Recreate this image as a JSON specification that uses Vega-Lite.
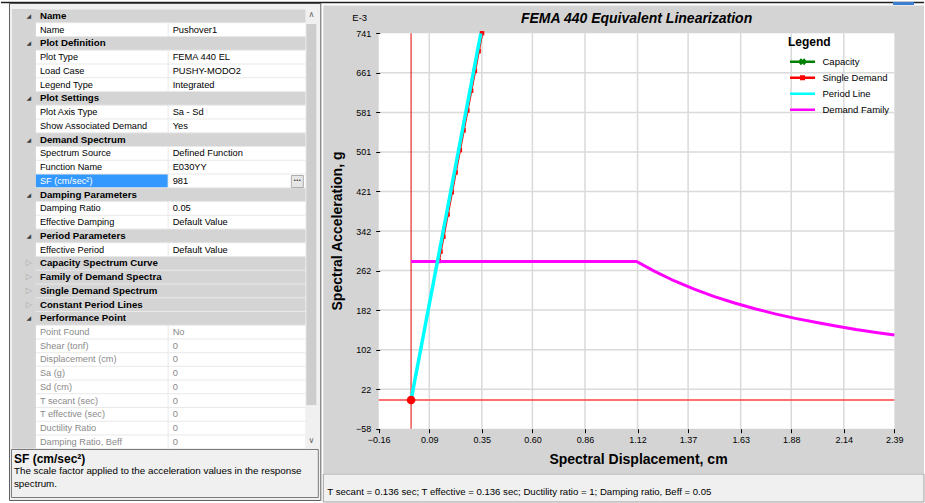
{
"$schema": "https://vega.github.io/schema/vega-lite/v6.json",
"width": 925, "height": 503,
"autosize": {"type": "fit", "contains": "padding"},
"padding": 0,
"background": "#ffffff",
"config": {"view": {"stroke": null}, "font": "Liberation Sans", "text": {"font": "Liberation Sans"}},
"datasets": {
 "props": [
  {"r":0,"k":"h","name":"Name","value":""},
  {"r":1,"k":"p","name":"Name","value":"Pushover1"},
  {"r":2,"k":"h","name":"Plot Definition","value":""},
  {"r":3,"k":"p","name":"Plot Type","value":"FEMA 440 EL"},
  {"r":4,"k":"p","name":"Load Case","value":"PUSHY-MODO2"},
  {"r":5,"k":"p","name":"Legend Type","value":"Integrated"},
  {"r":6,"k":"h","name":"Plot Settings","value":""},
  {"r":7,"k":"p","name":"Plot Axis Type","value":"Sa - Sd"},
  {"r":8,"k":"p","name":"Show Associated Demand","value":"Yes"},
  {"r":9,"k":"h","name":"Demand Spectrum","value":""},
  {"r":10,"k":"p","name":"Spectrum Source","value":"Defined Function"},
  {"r":11,"k":"p","name":"Function Name","value":"E030YY"},
  {"r":12,"k":"s","name":"SF (cm/sec²)","value":"981"},
  {"r":13,"k":"h","name":"Damping Parameters","value":""},
  {"r":14,"k":"p","name":"Damping Ratio","value":"0.05"},
  {"r":15,"k":"p","name":"Effective Damping","value":"Default Value"},
  {"r":16,"k":"h","name":"Period Parameters","value":""},
  {"r":17,"k":"p","name":"Effective Period","value":"Default Value"},
  {"r":18,"k":"hc","name":"Capacity Spectrum Curve","value":""},
  {"r":19,"k":"hc","name":"Family of Demand Spectra","value":""},
  {"r":20,"k":"hc","name":"Single Demand Spectrum","value":""},
  {"r":21,"k":"hc","name":"Constant Period Lines","value":""},
  {"r":22,"k":"h","name":"Performance Point","value":""},
  {"r":23,"k":"d","name":"Point Found","value":"No"},
  {"r":24,"k":"d","name":"Shear (tonf)","value":"0"},
  {"r":25,"k":"d","name":"Displacement (cm)","value":"0"},
  {"r":26,"k":"d","name":"Sa (g)","value":"0"},
  {"r":27,"k":"d","name":"Sd (cm)","value":"0"},
  {"r":28,"k":"d","name":"T secant (sec)","value":"0"},
  {"r":29,"k":"d","name":"T effective (sec)","value":"0"},
  {"r":30,"k":"d","name":"Ductility Ratio","value":"0"},
  {"r":31,"k":"d","name":"Damping Ratio, Beff","value":"0"}
 ],
 "curves": [
  {"series":"Capacity","sd":0,"sa":0},{"series":"Capacity","sd":0.345,"sa":741},
  {"series":"Single Demand","sd":0.1368,"sa":281},{"series":"Single Demand","sd":0.1457,"sa":300},{"series":"Single Demand","sd":0.1596,"sa":330},{"series":"Single Demand","sd":0.1806,"sa":375},{"series":"Single Demand","sd":0.2015,"sa":420},{"series":"Single Demand","sd":0.2202,"sa":460},{"series":"Single Demand","sd":0.2411,"sa":505},{"series":"Single Demand","sd":0.2597,"sa":545},{"series":"Single Demand","sd":0.2784,"sa":585},{"series":"Single Demand","sd":0.297,"sa":625},{"series":"Single Demand","sd":0.3156,"sa":665},{"series":"Single Demand","sd":0.3342,"sa":705},{"series":"Single Demand","sd":0.351,"sa":741},
  {"series":"Period Line","sd":0,"sa":0},{"series":"Period Line","sd":0.345,"sa":741},
  {"series":"Demand Family","sd":0,"sa":280},{"series":"Demand Family","sd":1.115,"sa":280},{"series":"Demand Family","sd":1.2,"sa":261},{"series":"Demand Family","sd":1.3,"sa":241},{"series":"Demand Family","sd":1.4,"sa":224},{"series":"Demand Family","sd":1.5,"sa":209},{"series":"Demand Family","sd":1.6,"sa":196},{"series":"Demand Family","sd":1.7,"sa":184.5},{"series":"Demand Family","sd":1.8,"sa":174},{"series":"Demand Family","sd":1.9,"sa":165},{"series":"Demand Family","sd":2.0,"sa":157},{"series":"Demand Family","sd":2.1,"sa":149.5},{"series":"Demand Family","sd":2.2,"sa":142.5},{"series":"Demand Family","sd":2.3,"sa":136.5},{"series":"Demand Family","sd":2.39,"sa":131.5}
 ],
 "gridx": [{"v":0.09},{"v":0.35},{"v":0.6},{"v":0.86},{"v":1.12},{"v":1.37},{"v":1.63},{"v":1.88},{"v":2.14}],
 "gridy": [{"v":21.9},{"v":101.8},{"v":181.7},{"v":261.6},{"v":341.5},{"v":421.4},{"v":501.3},{"v":581.2},{"v":661.1}]
},
"layer": [
 {"layer": [
  {"data": {"values": [{}]}, "mark": {"type": "rect", "fill": "#f0f0f0", "stroke": "#606060", "strokeWidth": 1},
   "encoding": {"x": {"datum": -0.1992, "type": "quantitative", "scale": {"domain": [-0.26316, 6.69173], "nice": false, "zero": false, "padding": 0}, "axis": null}, "x2": {"datum": 2.1466},
                "y": {"datum": -0.9098, "type": "quantitative", "scale": {"domain": [-1.16448, 35.44396], "nice": false, "zero": false, "reverse": true, "padding": 0}, "axis": null}, "y2": {"datum": 35.262}}},
  {"data": {"values": [{}]}, "mark": {"type": "rect", "fill": "#e9e9e9"},
   "encoding": {"x": {"datum": -0.1805, "type": "quantitative", "axis": null}, "x2": {"datum": 2.0301}, "y": {"datum": -0.5095, "type": "quantitative", "axis": null}, "y2": {"datum": 31.477}}},
  {"data": {"values": [{}]}, "mark": {"type": "rect", "fill": "#d4d4d4"},
   "encoding": {"x": {"datum": -0.1805, "type": "quantitative", "axis": null}, "x2": {"datum": 0}, "y": {"datum": -0.5095, "type": "quantitative", "axis": null}, "y2": {"datum": 31.477}}},
  {"data": {"values": [{}]}, "mark": {"type": "rect", "fill": "#f0f0f0"},
   "encoding": {"x": {"datum": 2.0301, "type": "quantitative", "axis": null}, "x2": {"datum": 2.1203}, "y": {"datum": -0.5095, "type": "quantitative", "axis": null}, "y2": {"datum": 31.477}}},
  {"data": {"values": [{}]}, "mark": {"type": "rect", "fill": "#cdcdcd"},
   "encoding": {"x": {"datum": 2.0376, "type": "quantitative", "axis": null}, "x2": {"datum": 2.1128}, "y": {"datum": 0.5822, "type": "quantitative", "axis": null}, "y2": {"datum": 28.311}}},
  {"data": {"values": [{}]}, "mark": {"type": "rect", "fill": "#f0f0f0", "stroke": "#7a7a7a", "strokeWidth": 1},
   "encoding": {"x": {"datum": -0.1842, "type": "quantitative", "axis": null}, "x2": {"datum": 2.1278}, "y": {"datum": 31.55, "type": "quantitative", "axis": null}, "y2": {"datum": 35.044}}},
  {"data": {"values": [{}]}, "mark": {"type": "rect", "fill": "#d4d4d4"},
   "encoding": {"x": {"datum": 2.1654, "type": "quantitative", "axis": null}, "x2": {"datum": 6.6917}, "y": {"datum": -0.7642, "type": "quantitative", "axis": null}, "y2": {"datum": 33.261}}},
  {"data": {"values": [{}]}, "mark": {"type": "rect", "fill": "#f0f0f0", "stroke": "#a0a0a0", "strokeWidth": 1},
   "encoding": {"x": {"datum": 2.1654, "type": "quantitative", "axis": null}, "x2": {"datum": 6.6917}, "y": {"datum": 33.333, "type": "quantitative", "axis": null}, "y2": {"datum": 35.371}}},
  {"data": {"values": [{}]}, "mark": {"type": "rule", "color": "#202020", "strokeWidth": 1.5},
   "encoding": {"x": {"datum": -0.2632, "type": "quantitative", "axis": null}, "x2": {"datum": 6.6917}, "y": {"datum": -0.9825, "type": "quantitative", "axis": null}}},
  {"data": {"values": [{}]}, "mark": {"type": "rect", "fill": "#3b7fd4"},
   "encoding": {"x": {"datum": 6.4586, "type": "quantitative", "axis": null}, "x2": {"datum": 6.6165}, "y": {"datum": -1.019, "type": "quantitative", "axis": null}, "y2": {"datum": -0.8006}}},
  {"data": {"name": "props"}, "transform": [{"filter": "datum.k === 'h' || datum.k === 'hc'"}],
   "mark": {"type": "bar", "orient": "horizontal", "size": 12.74, "fill": "#d4d4d4"},
   "encoding": {"x": {"datum": 0, "type": "quantitative", "axis": null}, "x2": {"datum": 2.0301}, "y": {"field": "r", "type": "quantitative", "axis": null}}},
  {"data": {"name": "props"}, "transform": [{"filter": "datum.k === 'p' || datum.k === 'd' || datum.k === 's'"}],
   "mark": {"type": "bar", "orient": "horizontal", "size": 12.74},
   "encoding": {"x": {"datum": 0, "type": "quantitative", "axis": null}, "x2": {"datum": 0.9925}, "y": {"field": "r", "type": "quantitative", "axis": null},
                "color": {"condition": {"test": "datum.k === 's'", "value": "#3399ff"}, "value": "#ffffff"}}},
  {"data": {"name": "props"}, "transform": [{"filter": "datum.k === 'p' || datum.k === 'd' || datum.k === 's'"}],
   "mark": {"type": "bar", "orient": "horizontal", "size": 12.74, "fill": "#ffffff"},
   "encoding": {"x": {"datum": 1, "type": "quantitative", "axis": null}, "x2": {"datum": 2.0301}, "y": {"field": "r", "type": "quantitative", "axis": null}}},
  {"data": {"values": [{}]}, "mark": {"type": "rect", "fill": "#e6e6e6", "stroke": "#adadad", "strokeWidth": 1},
   "encoding": {"x": {"datum": 1.9248, "type": "quantitative", "axis": null}, "x2": {"datum": 2.015}, "y": {"datum": 11.608, "type": "quantitative", "axis": null}, "y2": {"datum": 12.482}}},
  {"data": {"values": [{"t": "..."}]}, "mark": {"type": "text", "align": "center", "baseline": "middle", "fontSize": 9, "fontWeight": "bold", "color": "#333333"},
   "encoding": {"x": {"datum": 1.97, "type": "quantitative", "axis": null}, "y": {"datum": 11.8, "type": "quantitative", "axis": null}, "text": {"field": "t"}}},
  {"data": {"values": [{"t": "∧"}]}, "mark": {"type": "text", "align": "center", "baseline": "middle", "fontSize": 8, "color": "#606060", "font": "DejaVu Sans"},
   "encoding": {"x": {"datum": 2.0752, "type": "quantitative", "axis": null}, "y": {"datum": -0.0728, "type": "quantitative", "axis": null}, "text": {"field": "t"}}},
  {"data": {"values": [{"t": "∨"}]}, "mark": {"type": "text", "align": "center", "baseline": "middle", "fontSize": 8, "color": "#606060", "font": "DejaVu Sans"},
   "encoding": {"x": {"datum": 2.0752, "type": "quantitative", "axis": null}, "y": {"datum": 30.931, "type": "quantitative", "axis": null}, "text": {"field": "t"}}},
  {"data": {"name": "props"}, "transform": [{"filter": "datum.k === 'h' || datum.k === 'hc'"}],
   "mark": {"type": "text", "align": "center", "baseline": "middle", "dx": -7, "font": "DejaVu Sans"},
   "encoding": {"x": {"datum": 0, "type": "quantitative", "axis": null}, "y": {"field": "r", "type": "quantitative", "axis": null},
                "text": {"condition": {"test": "datum.k === 'h'", "value": "◢"}, "value": "▷"},
                "size": {"condition": {"test": "datum.k === 'h'", "value": 6}, "value": 8},
                "color": {"condition": {"test": "datum.k === 'h'", "value": "#404040"}, "value": "#a8a8a8"}}},
  {"data": {"name": "props"}, "transform": [{"filter": "datum.k === 'h' || datum.k === 'hc'"}],
   "mark": {"type": "text", "align": "left", "baseline": "middle", "dx": 4, "fontSize": 9.7, "fontWeight": "bold", "color": "#000000"},
   "encoding": {"x": {"datum": 0, "type": "quantitative", "axis": null}, "y": {"field": "r", "type": "quantitative", "axis": null}, "text": {"field": "name"}}},
  {"data": {"name": "props"}, "transform": [{"filter": "datum.k === 'p' || datum.k === 'd' || datum.k === 's'"}],
   "mark": {"type": "text", "align": "left", "baseline": "middle", "dx": 4, "fontSize": 9.2},
   "encoding": {"x": {"datum": 0, "type": "quantitative", "axis": null}, "y": {"field": "r", "type": "quantitative", "axis": null}, "text": {"field": "name"},
                "color": {"condition": [{"test": "datum.k === 's'", "value": "#ffffff"}, {"test": "datum.k === 'd'", "value": "#8a8a8a"}], "value": "#000000"}}},
  {"data": {"name": "props"}, "transform": [{"filter": "datum.k === 'p' || datum.k === 'd' || datum.k === 's'"}],
   "mark": {"type": "text", "align": "left", "baseline": "middle", "dx": 4, "fontSize": 9.3},
   "encoding": {"x": {"datum": 1, "type": "quantitative", "axis": null}, "y": {"field": "r", "type": "quantitative", "axis": null}, "text": {"field": "value"},
                "color": {"condition": {"test": "datum.k === 'd'", "value": "#8a8a8a"}, "value": "#000000"}}},
  {"data": {"values": [{"t": "SF (cm/sec²)"}]}, "mark": {"type": "text", "align": "left", "baseline": "middle", "fontSize": 12, "fontWeight": "bold", "color": "#000000"},
   "encoding": {"x": {"datum": -0.1654, "type": "quantitative", "axis": null}, "y": {"datum": 32.278, "type": "quantitative", "axis": null}, "text": {"field": "t"}}},
  {"data": {"values": [{"t": ["The scale factor applied to the acceleration values in the response", "spectrum."]}]}, "mark": {"type": "text", "align": "left", "baseline": "top", "fontSize": 9.8, "lineHeight": 13, "color": "#000000"},
   "encoding": {"x": {"datum": -0.1654, "type": "quantitative", "axis": null}, "y": {"datum": 32.78, "type": "quantitative", "axis": null}, "text": {"field": "t"}}},
  {"data": {"values": [{"t": "T secant = 0.136 sec;  T effective = 0.136 sec;  Ductility ratio = 1;  Damping ratio, Beff = 0.05"}]}, "mark": {"type": "text", "align": "left", "baseline": "middle", "fontSize": 9.6, "color": "#000000"},
   "encoding": {"x": {"datum": 2.1955, "type": "quantitative", "axis": null}, "y": {"datum": 34.643, "type": "quantitative", "axis": null}, "text": {"field": "t"}}}
 ]},
 {"layer": [
  {"data": {"values": [{}]}, "mark": {"type": "rect", "fill": "#ffffff"},
   "encoding": {
    "x": {"datum": -0.16, "type": "quantitative", "scale": {"domain": [-2.0279, 2.5365], "nice": false, "zero": false},
          "axis": {"orient": "bottom", "offset": -74.3, "values": [-0.16, 0.09, 0.35, 0.6, 0.86, 1.12, 1.37, 1.63, 1.88, 2.14, 2.39], "format": ".2f", "labelFontSize": 9, "labelColor": "#000000", "tickColor": "#000000", "tickSize": 4, "labelPadding": 3, "domain": false, "grid": false, "labelFlush": false, "labelOverlap": false,
                   "title": "Spectral Displacement, cm", "titleFontSize": 14, "titleFontWeight": "bold", "titleColor": "#000000", "titleX": 637, "titleY": 24, "titleBaseline": "top", "zindex": 1}},
    "x2": {"datum": 2.39},
    "y": {"datum": -58, "type": "quantitative", "scale": {"domain": [-208.1, 808.3], "nice": false, "zero": false},
          "axis": {"orient": "left", "offset": -378.7, "values": [-58, 21.9, 101.8, 181.7, 261.6, 341.5, 421.4, 501.3, 581.2, 661.1, 741], "format": ".0f", "labelFontSize": 9, "labelColor": "#000000", "tickColor": "#000000", "tickSize": 4, "labelPadding": 5, "domain": false, "grid": false, "labelFlush": false, "labelOverlap": false,
                   "title": "Spectral Acceleration, g", "titleFontSize": 14, "titleFontWeight": "bold", "titleColor": "#000000", "titleX": -35, "titleY": 230.5, "zindex": 1}},
    "y2": {"datum": 741}}},
  {"data": {"name": "gridx"}, "mark": {"type": "rule", "color": "#dadada", "strokeWidth": 1.5},
   "encoding": {"x": {"field": "v", "type": "quantitative"}, "y": {"datum": -58, "type": "quantitative"}, "y2": {"datum": 741}}},
  {"data": {"name": "gridy"}, "mark": {"type": "rule", "color": "#dadada", "strokeWidth": 1.5},
   "encoding": {"y": {"field": "v", "type": "quantitative"}, "x": {"datum": -0.16, "type": "quantitative"}, "x2": {"datum": 2.39}}},
  {"data": {"values": [{}]}, "mark": {"type": "rule", "color": "#e00000", "strokeWidth": 1},
   "encoding": {"x": {"datum": 0, "type": "quantitative"}, "y": {"datum": -58, "type": "quantitative"}, "y2": {"datum": 741}}},
  {"data": {"values": [{}]}, "mark": {"type": "rule", "color": "#ff4040", "strokeWidth": 1.5},
   "encoding": {"y": {"datum": 0, "type": "quantitative"}, "x": {"datum": -0.16, "type": "quantitative"}, "x2": {"datum": 2.39}}},
  {"data": {"name": "curves"}, "transform": [{"filter": "datum.series === 'Capacity'"}], "mark": {"type": "line", "strokeWidth": 1.5},
   "encoding": {"x": {"field": "sd", "type": "quantitative"}, "y": {"field": "sa", "type": "quantitative"},
    "color": {"field": "series", "type": "nominal",
      "scale": {"domain": ["Capacity", "Single Demand", "Period Line", "Demand Family"], "range": ["#008000", "#ff0000", "#00ffff", "#ff00ff"]},
      "legend": {"title": "Legend", "orient": "none", "legendX": 787, "legendY": 37, "padding": 0, "titleFontSize": 12, "titleFont": "Liberation Sans", "titleFontWeight": "bold", "titleColor": "#000000", "titlePadding": 6,
                 "labelFontSize": 9.5, "labelFont": "Liberation Sans", "labelColor": "#000000", "symbolSize": 625, "symbolOffset": 0.5, "labelOffset": 6, "clipHeight": 13.5, "rowPadding": 2,
                 "encode": {"symbols": {"update": {
                   "shape": {"signal": "datum.value === 'Capacity' ? 'M-1,0L1,0M-0.2,-0.2L0.2,0.2M-0.2,0.2L0.2,-0.2' : datum.value === 'Single Demand' ? 'M-1,0L1,0M-0.1,-0.1L0.1,-0.1L0.1,0.1L-0.1,0.1Z' : 'M-1,0L1,0'"},
                   "size": {"value": 625},
                   "fill": {"scale": "color", "field": "value"},
                   "stroke": {"scale": "color", "field": "value"},
                   "strokeWidth": {"value": 2.5},
                   "opacity": {"value": 1}}}}}}}},
  {"data": {"name": "curves"}, "transform": [{"filter": "datum.series === 'Single Demand'"}], "mark": {"type": "line", "strokeWidth": 2.5},
   "encoding": {"x": {"field": "sd", "type": "quantitative"}, "y": {"field": "sa", "type": "quantitative"}, "color": {"field": "series", "type": "nominal"}}},
  {"data": {"name": "curves"}, "transform": [{"filter": "datum.series === 'Single Demand'"}], "mark": {"type": "point", "shape": "square", "filled": true, "size": 20, "color": "#ff0000", "opacity": 1},
   "encoding": {"x": {"field": "sd", "type": "quantitative"}, "y": {"field": "sa", "type": "quantitative"}}},
  {"data": {"name": "curves"}, "transform": [{"filter": "datum.series === 'Demand Family'"}], "mark": {"type": "line", "strokeWidth": 3},
   "encoding": {"x": {"field": "sd", "type": "quantitative"}, "y": {"field": "sa", "type": "quantitative"}, "color": {"field": "series", "type": "nominal"}}},
  {"data": {"name": "curves"}, "transform": [{"filter": "datum.series === 'Period Line'"}], "mark": {"type": "line", "strokeWidth": 3.5},
   "encoding": {"x": {"field": "sd", "type": "quantitative"}, "y": {"field": "sa", "type": "quantitative"}, "color": {"field": "series", "type": "nominal"}}},
  {"data": {"values": [{"sd": 0, "sa": 0}]}, "mark": {"type": "point", "shape": "circle", "filled": true, "size": 75, "color": "#ff0000", "opacity": 1},
   "encoding": {"x": {"field": "sd", "type": "quantitative"}, "y": {"field": "sa", "type": "quantitative"}}},
  {"data": {"values": [{"t": "FEMA 440 Equivalent Linearization"}]}, "mark": {"type": "text", "align": "center", "baseline": "middle", "fontSize": 14, "fontWeight": "bold", "fontStyle": "italic", "color": "#000000"},
   "encoding": {"x": {"datum": 1.115, "type": "quantitative"}, "y": {"datum": 770, "type": "quantitative"}, "text": {"field": "t"}}},
  {"data": {"values": [{"t": "E-3"}]}, "mark": {"type": "text", "align": "center", "baseline": "middle", "fontSize": 9.5, "color": "#000000"},
   "encoding": {"x": {"datum": -0.2538, "type": "quantitative"}, "y": {"datum": 771.9, "type": "quantitative"}, "text": {"field": "t"}}}
 ]}
],
"resolve": {"scale": {"x": "independent", "y": "independent"}}
}
